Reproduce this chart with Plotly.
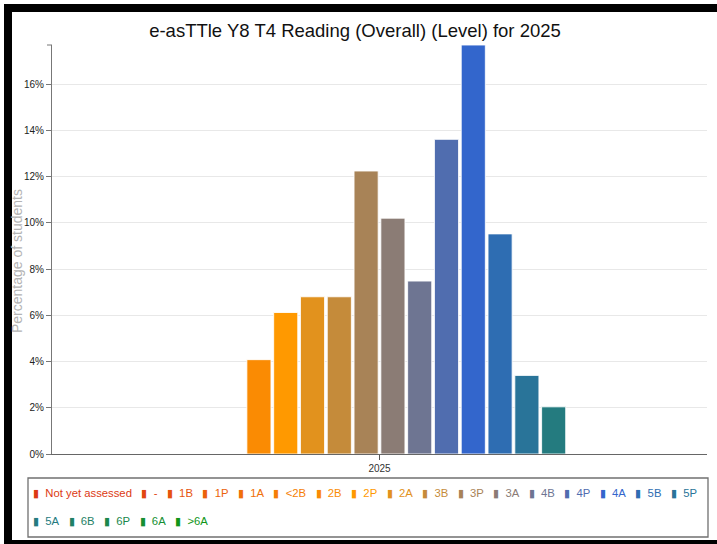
import plotly.graph_objects as go

# ---- data ----
categories = ["Not yet assessed", "-", "1B", "1P", "1A", "<2B", "2B", "2P", "2A",
              "3B", "3P", "3A", "4B", "4P", "4A", "5B", "5P", "5A", "6B", "6P", "6A", ">6A"]
percent = [0, 0, 0, 0, 0, 0, 4.08, 6.12, 6.80,
           6.80, 12.24, 10.20, 7.48, 13.61, 17.69, 9.52, 3.40, 2.04, 0, 0, 0, 0]
colors = ["#dc3912", "#e1470f", "#e6540d", "#eb620a", "#f07008", "#f57e05", "#fa8b03",
          "#ff9900", "#e2921d", "#c58b3a", "#a88357", "#8b7c75", "#6e7592", "#506daf",
          "#3366cc", "#2e6db2", "#297499", "#247b7f", "#1f8165", "#1a884c", "#158f32", "#109618"]
year = "2025"
y_ticks = [0, 2, 4, 6, 8, 10, 12, 14, 16]
y_tick_text = ["0%", "2%", "4%", "6%", "8%", "10%", "12%", "14%", "16%"]
title = "e-asTTle Y8 T4 Reading (Overall) (Level) for 2025"
legend_rows = [list(range(0, 17)), list(range(17, 22))]

W, H = 717, 544
L, R, T, B = 52, 10, 45, 90
pw, ph = W - L - R, H - T - B


def px(x):
    return (x - L) / pw


def py(y):
    return (H - B - y) / ph


fig = go.Figure()
for name, val, col in zip(categories, percent, colors):
    fig.add_trace(go.Bar(
        x=[year], y=[val], name=name,
        marker=dict(color=col, line=dict(color="rgba(255,255,255,0.85)", width=1)),
        showlegend=False,
        hovertemplate=name + ": %{y:.2f}%<extra></extra>",
    ))

shapes = [
    # black frame (left, top, bottom)
    dict(type="rect", xref="paper", yref="paper", x0=px(4), x1=px(12), y0=py(544), y1=py(4),
         fillcolor="black", line=dict(width=0), layer="above"),
    dict(type="rect", xref="paper", yref="paper", x0=px(4), x1=px(717), y0=py(12), y1=py(4),
         fillcolor="black", line=dict(width=0), layer="above"),
    dict(type="rect", xref="paper", yref="paper", x0=px(4), x1=px(717), y0=py(544), y1=py(540),
         fillcolor="black", line=dict(width=0), layer="above"),
    # legend box
    dict(type="rect", xref="paper", yref="paper", x0=px(28), x1=px(708), y0=py(537), y1=py(478),
         fillcolor="rgba(0,0,0,0)", line=dict(color="#707070", width=1.3)),
    # y-axis outer tick at top
    dict(type="line", xref="paper", yref="paper", x0=px(47), x1=px(52), y0=1, y1=1,
         line=dict(color="#777", width=1)),
]

annotations = [
    dict(text="Percentage of students", xref="paper", yref="paper", x=px(17), y=py(261),
         textangle=-90, showarrow=False, xanchor="center", yanchor="middle",
         font=dict(family="Liberation Sans, Arial", size=14, color="#b4b4b4")),
]

nb = "\u00a0"
row_y = [493, 521]
for r, idxs in enumerate(legend_rows):
    parts = []
    for i in idxs:
        parts.append("<span style='color:%s'>\u25ae%s%s</span>" % (colors[i], nb * 2, categories[i]))
    txt = (nb * 3).join(parts)
    annotations.append(dict(text=txt, xref="paper", yref="paper", x=px(31), y=py(row_y[r]),
                            showarrow=False, xanchor="left", yanchor="middle", align="left",
                            font=dict(family="Liberation Sans, Arial", size=11.3)))

fig.update_layout(
    width=W, height=H,
    margin=dict(l=L, r=R, t=T, b=B),
    paper_bgcolor="white", plot_bgcolor="white",
    barmode="group", bargap=0.1, bargroupgap=0.1,
    title=dict(text=title, xref="container", x=355 / W, xanchor="center",
               yref="container", y=1 - 31 / H, yanchor="middle",
               font=dict(family="Liberation Sans, Arial", size=18.5, color="#111")),
    xaxis=dict(type="category", showline=True, linecolor="#666", linewidth=1,
               ticks="outside", ticklen=5, tickcolor="#555", showgrid=False,
               tickfont=dict(family="Liberation Sans, Arial", size=10, color="#333")),
    yaxis=dict(range=[0, 17.69], tickvals=y_ticks, ticktext=y_tick_text, showline=True,
               linecolor="#777", linewidth=1, ticks="outside", ticklen=5, tickcolor="#777",
               showgrid=True, gridcolor="#e8e8e8", zeroline=False,
               tickfont=dict(family="Liberation Sans, Arial", size=10, color="#222")),
    shapes=shapes,
    annotations=annotations,
    font=dict(family="Liberation Sans, Arial"),
)

fig.write_html("out.html", config={"displayModeBar": False},
               post_script="document.body.style.margin='0';")
